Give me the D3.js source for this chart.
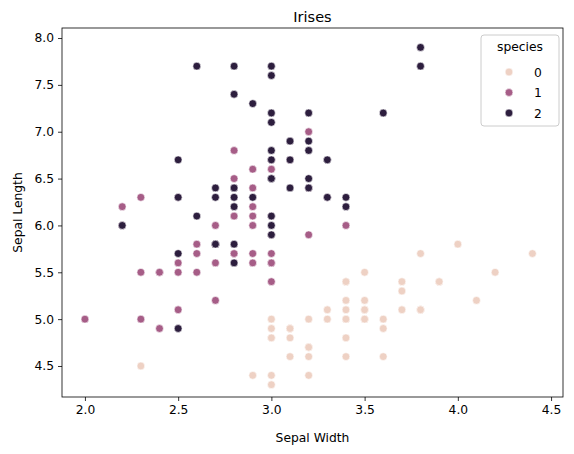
<!DOCTYPE html><html><head><meta charset="utf-8"><script src="https://cdn.jsdelivr.net/npm/d3@7"></script>
<style>body{margin:0;background:#fff}text{font-family:"DejaVu Sans",sans-serif;fill:#000}</style></head><body><svg id="c" width="574" height="454"></svg><script>
const species=[0,1,2];
const colors=["#eed1c4","#a65d87","#2d1e3e"];
const setosa=[[5.1,3.5],[4.9,3.0],[4.7,3.2],[4.6,3.1],[5.0,3.6],[5.4,3.9],[4.6,3.4],[5.0,3.4],[4.4,2.9],[4.9,3.1],[5.4,3.7],[4.8,3.4],[4.8,3.0],[4.3,3.0],[5.8,4.0],[5.7,4.4],[5.4,3.9],[5.1,3.5],[5.7,3.8],[5.1,3.8],[5.4,3.4],[5.1,3.7],[4.6,3.6],[5.1,3.3],[4.8,3.4],[5.0,3.0],[5.0,3.4],[5.2,3.5],[5.2,3.4],[4.7,3.2],[4.8,3.1],[5.4,3.4],[5.2,4.1],[5.5,4.2],[4.9,3.1],[5.0,3.2],[5.5,3.5],[4.9,3.6],[4.4,3.0],[5.1,3.4],[5.0,3.5],[4.5,2.3],[4.4,3.2],[5.0,3.5],[5.1,3.8],[4.8,3.0],[5.1,3.8],[4.6,3.2],[5.3,3.7],[5.0,3.3]];
const versicolor=[[7.0,3.2],[6.4,3.2],[6.9,3.1],[5.5,2.3],[6.5,2.8],[5.7,2.8],[6.3,3.3],[4.9,2.4],[6.6,2.9],[5.2,2.7],[5.0,2.0],[5.9,3.0],[6.0,2.2],[6.1,2.9],[5.6,2.9],[6.7,3.1],[5.6,3.0],[5.8,2.7],[6.2,2.2],[5.6,2.5],[5.9,3.2],[6.1,2.8],[6.3,2.5],[6.1,2.8],[6.4,2.9],[6.6,3.0],[6.8,2.8],[6.7,3.0],[6.0,2.9],[5.7,2.6],[5.5,2.4],[5.5,2.4],[5.8,2.7],[6.0,2.7],[5.4,3.0],[6.0,3.4],[6.7,3.1],[6.3,2.3],[5.6,3.0],[5.5,2.5],[5.5,2.6],[6.1,3.0],[5.8,2.6],[5.0,2.3],[5.6,2.7],[5.7,3.0],[5.7,2.9],[6.2,2.9],[5.1,2.5],[5.7,2.8]];
const virginica=[[6.3,3.3],[5.8,2.7],[7.1,3.0],[6.3,2.9],[6.5,3.0],[7.6,3.0],[4.9,2.5],[7.3,2.9],[6.7,2.5],[7.2,3.6],[6.5,3.2],[6.4,2.7],[6.8,3.0],[5.7,2.5],[5.8,2.8],[6.4,3.2],[6.5,3.0],[7.7,3.8],[7.7,2.6],[6.0,2.2],[6.9,3.2],[5.6,2.8],[7.7,2.8],[6.3,2.7],[6.7,3.3],[7.2,3.2],[6.2,2.8],[6.1,3.0],[6.4,2.8],[7.2,3.0],[7.4,2.8],[7.9,3.8],[6.4,2.8],[6.3,2.8],[6.1,2.6],[7.7,3.0],[6.3,3.4],[6.4,3.1],[6.0,3.0],[6.9,3.1],[6.7,3.1],[6.9,3.1],[5.8,2.7],[6.8,3.2],[6.7,3.3],[6.7,3.0],[6.3,2.5],[6.5,3.0],[6.2,3.4],[5.9,3.0]];
const xTicks=[2.0,2.5,3.0,3.5,4.0,4.5];
const yTicks=[4.5,5.0,5.5,6.0,6.5,7.0,7.5,8.0];
const groups=[setosa,versicolor,virginica];
const L=62,R=563,T=28,B=397;
const x=d3.scaleLinear().domain([1.877,4.564]).range([L,R]);
const y=d3.scaleLinear().domain([4.169,8.107]).range([B,T]);
const svg=d3.select("#c");
const pts=[];groups.forEach((g,i)=>g.forEach(p=>pts.push({sl:p[0],sw:p[1],s:i})));
svg.append("g").selectAll("circle").data(pts).join("circle").attr("cx",d=>x(d.sw)).attr("cy",d=>y(d.sl)).attr("r",3.9)
 .attr("fill",d=>colors[d.s]).attr("stroke","#fff").attr("stroke-width",0.6);
const xa=svg.append("g").attr("transform",`translate(0,${B})`).call(d3.axisBottom(x).tickValues(xTicks).tickFormat(d3.format(".1f")).tickSize(4).tickPadding(4));
const ya=svg.append("g").attr("transform",`translate(${L},0)`).call(d3.axisLeft(y).tickValues(yTicks).tickFormat(d3.format(".1f")).tickSize(4).tickPadding(4));
[xa,ya].forEach(a=>{a.select(".domain").remove();a.selectAll("text").attr("font-size",12.3).attr("font-family","DejaVu Sans");a.selectAll("line").attr("stroke","#000").attr("stroke-width",0.8)});
svg.append("rect").attr("x",L).attr("y",T).attr("width",R-L).attr("height",B-T).attr("fill","none").attr("stroke","#000").attr("stroke-width",0.8);
svg.append("text").attr("x",(L+R)/2).attr("y",22).attr("text-anchor","middle").attr("font-size",14.5).text("Irises");
svg.append("text").attr("x",(L+R)/2).attr("y",442).attr("text-anchor","middle").attr("font-size",12.3).text("Sepal Width");
svg.append("text").attr("transform",`translate(22,${(T+B)/2}) rotate(-90)`).attr("text-anchor","middle").attr("font-size",12.3).text("Sepal Length");
const lg=svg.append("g");
lg.append("rect").attr("x",481).attr("y",35).attr("width",78).attr("height",91).attr("rx",3).attr("fill","#fff").attr("fill-opacity",0.8).attr("stroke","#ccc");
lg.append("text").attr("x",520).attr("y",51).attr("text-anchor","middle").attr("font-size",12.3).text("species");
species.forEach((s,i)=>{const yy=72+i*20.5;
 lg.append("circle").attr("cx",509).attr("cy",yy).attr("r",3.9).attr("fill",colors[i]).attr("stroke","#fff").attr("stroke-width",0.6);
 lg.append("text").attr("x",534).attr("y",yy+4.5).attr("font-size",12.3).text(s);});
</script></body></html>
